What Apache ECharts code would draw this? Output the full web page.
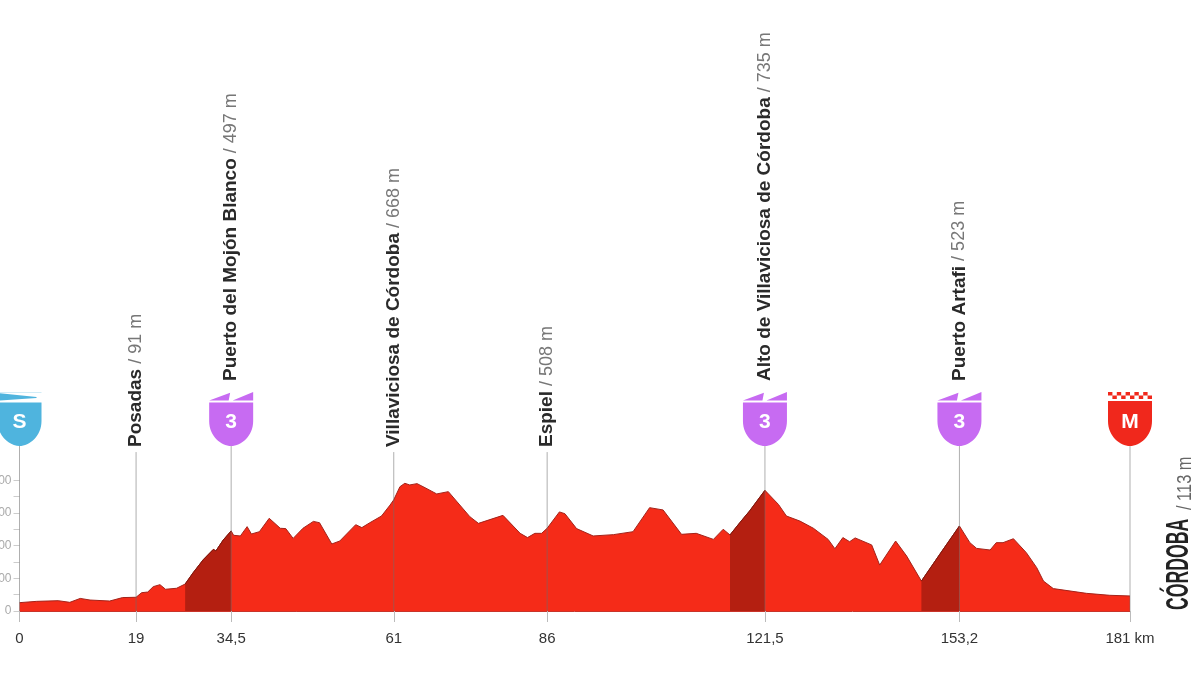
<!DOCTYPE html>
<html><head><meta charset="utf-8">
<script src="https://cdn.jsdelivr.net/npm/echarts@6/dist/echarts.min.js"></script>
<style>html,body{margin:0;padding:0;background:#fff}#c{width:1200px;height:675px}</style>
</head><body><div id="c"></div>
<script>
const km = [0,2.8,6.3,8.2,9.9,11.5,14.7,16.8,19,19.9,20.9,21.8,22.9,23.8,25.6,27,28.3,30,31.6,32,33.2,34.5,34.9,36,37.1,37.8,39.1,40.7,42.5,43.4,44.6,46.2,47.9,48.9,50.9,52.2,54.8,55.8,57.1,59,60.4,61,62,62.8,63.6,64.8,66.1,68,69.9,71.2,73.4,74.8,78.8,81.6,82.8,84,85.1,86,88,88.9,90.8,93.5,96.8,100,102.7,104.9,107.9,110.3,113.1,114.7,115.8,117.4,119,121.5,123.7,125,127.2,129.4,131.8,132.9,134.2,135.3,136.2,138.9,140.2,142.8,144.6,147,150,153.2,154.9,156,158.2,159.2,160.3,162,164.1,165.8,166.9,168.5,173.9,177.7,181];
const elevation = [51,59,63,53,77,67,61,82,84,112,116,149,161,133,139,165,234,316,377,367,434,490,463,459,516,471,485,567,506,504,444,506,548,540,410,428,528,510,540,581,648,680,760,781,771,779,754,716,730,673,577,536,585,475,449,475,475,506,606,595,504,459,467,485,632,618,469,475,438,500,465,540,612,738,652,581,550,506,438,381,449,424,447,404,281,428,336,183,347,520,418,383,373,418,418,442,357,265,183,137,108,96,92];
const climbs = [[27,34.5],[115.8,121.5],[147,153.2]];
const markKm = [0,19,34.5,61,86,121.5,153.2,181];
const markTop = [1015,972,1015,972,972,1015,1015,1015];
const tickLabels = ['0','19','34,5','61','86','121,5','153,2','181 km'];
const placeKm = [19,34.5,61,86,121.5,153.2];
const placeNames = ['Posadas','Puerto del Mojón Blanco','Villaviciosa de Córdoba','Espiel','Alto de Villaviciosa de Córdoba','Puerto Artafi'];
const placeHeights = ['91 m','497 m','668 m','508 m','735 m','523 m'];
const placeBase = [1003,1407,1003,1003,1407,1407];
const badgeKm = [0,34.5,121.5,153.2,181];
const badgeText = ['S','3','3','3','M'];
const badgeKind = ['start','climb','climb','climb','finish'];
const elevTicks = [0,100,200,300,400,500,600,700,800];
const elevLabels = [0,200,400,600,800];
const finishName = 'CÓRDOBA';
const finishHeight = '/ 113 m';

const body = 'M0,10.5 L44,10.5 L44,29 C44,44 32,54 22,54 C12,54 0,44 0,29 Z';
const shapes = {
  climb: 'path://M0,8.5 L21,0.8 L19.5,8.5 Z M23.5,8.5 L44,0 L44,8.5 Z ' + body,
  start: 'path://M0,0 L44,0 L44,0.1 L0,0.1 Z M0,1 L39,5 L39,6 L0,8.5 Z ' + body,
  finish: 'path://M0,0 H4.4 V3.5 H0 Z M8.8,0 H13.2 V3.5 H8.8 Z M17.6,0 H22 V3.5 H17.6 Z M26.4,0 H30.8 V3.5 H26.4 Z M35.2,0 H39.6 V3.5 H35.2 Z M4.4,3.5 H8.8 V7 H4.4 Z M13.2,3.5 H17.6 V7 H13.2 Z M22,3.5 H26.4 V7 H22 Z M30.8,3.5 H35.2 V7 H30.8 Z M39.6,3.5 H44 V7 H39.6 Z M0,9 H44 V29 C44,44 32,54 22,54 C12,54 0,44 0,29 Z'
};
const colors = {climb:'#C76BF2', start:'#4FB4DE', finish:'#F0281C'};
const SANS = '"Liberation Sans",sans-serif';

const profile = km.map((k,i)=>[k,elevation[i]]);
const series = [{
  type:'line', data:profile, showSymbol:false, silent:true, z:2,
  lineStyle:{color:'#A3231A',width:1}, areaStyle:{color:'#F52B18',opacity:1}
}];
climbs.forEach(([a,b])=>series.push({
  type:'line', data:profile.filter(p=>p[0]>=a&&p[0]<=b), showSymbol:false, silent:true, z:3,
  lineStyle:{color:'#7A190F',width:1}, areaStyle:{color:'#B41F11',opacity:1}
}));
markKm.forEach((k,i)=>series.push({
  type:'line', data:[[k,0],[k,markTop[i]]], showSymbol:false, silent:true, z:4,
  lineStyle:{color:'rgba(110,110,110,0.55)',width:1}
}));
series.push({
  type:'scatter', symbolSize:0, silent:true, z:6, itemStyle:{opacity:1},
  data:placeKm.map((k,i)=>({value:[k,placeBase[i]],name:placeNames[i],h:placeHeights[i]})),
  label:{show:true,position:[0,0],align:'left',verticalAlign:'middle',rotate:90,
    formatter:p=>`{n|${p.name}}{h| / ${p.data.h}}`,
    rich:{n:{fontFamily:SANS,fontSize:19,fontWeight:'bold',color:'#2a2a2a'},
          h:{fontFamily:SANS,fontSize:18,color:'#777'}}}
});
series.push({
  type:'scatter', silent:true, z:7,
  data:badgeKm.map((k,i)=>({value:[k,1174],name:badgeText[i],symbol:shapes[badgeKind[i]],
    itemStyle:{color:colors[badgeKind[i]],opacity:1}})),
  symbolSize:[44,54], symbolKeepAspect:false,
  label:{show:true,position:'inside',offset:[0,3],formatter:p=>p.name,color:'#fff',fontFamily:SANS,fontWeight:'bold',fontSize:21}
});

const chart = echarts.init(document.getElementById('c'),null,{renderer:'canvas'});
chart.setOption({
  animation:false, backgroundColor:'#fff',
  grid:{left:19.5,right:70,top:22.4,bottom:64,outerBoundsMode:'none'},
  xAxis:{type:'value',min:0,max:181,splitLine:{show:false},
    axisLine:{show:true,lineStyle:{color:'#C9342A',width:1}},
    axisTick:{show:true,customValues:markKm,length:11,lineStyle:{color:'#bbb'}},
    axisLabel:{show:true,customValues:markKm,margin:20,color:'#333',fontFamily:SANS,fontSize:15,
      hideOverlap:false,showMinLabel:true,showMaxLabel:true,alignMaxLabel:'center',alignMinLabel:'center',
      formatter:v=>tickLabels[markKm.indexOf(v)]}},
  yAxis:{type:'value',min:0,max:3600,splitLine:{show:false},
    axisLine:{show:false},
    axisTick:{show:true,customValues:elevTicks,length:6,lineStyle:{color:'#ccc'}},
    axisLabel:{show:true,customValues:elevLabels,margin:8,color:'#aaa',fontFamily:SANS,fontSize:12}},
  graphic:[
    {type:'text',x:1195,y:610,rotation:Math.PI/2,scaleX:0.56,z:10,
     style:{text:finishName,fontFamily:'"Liberation Sans"',fontSize:31.5,fontWeight:'bold',fill:'#222',align:'left',verticalAlign:'bottom'}},
    {type:'text',x:1195,y:510,rotation:Math.PI/2,scaleX:0.82,z:10,
     style:{text:finishHeight,fontFamily:'"Liberation Sans"',fontSize:20,fill:'#666',align:'left',verticalAlign:'bottom'}}
  ],
  series
});
</script></body></html>
